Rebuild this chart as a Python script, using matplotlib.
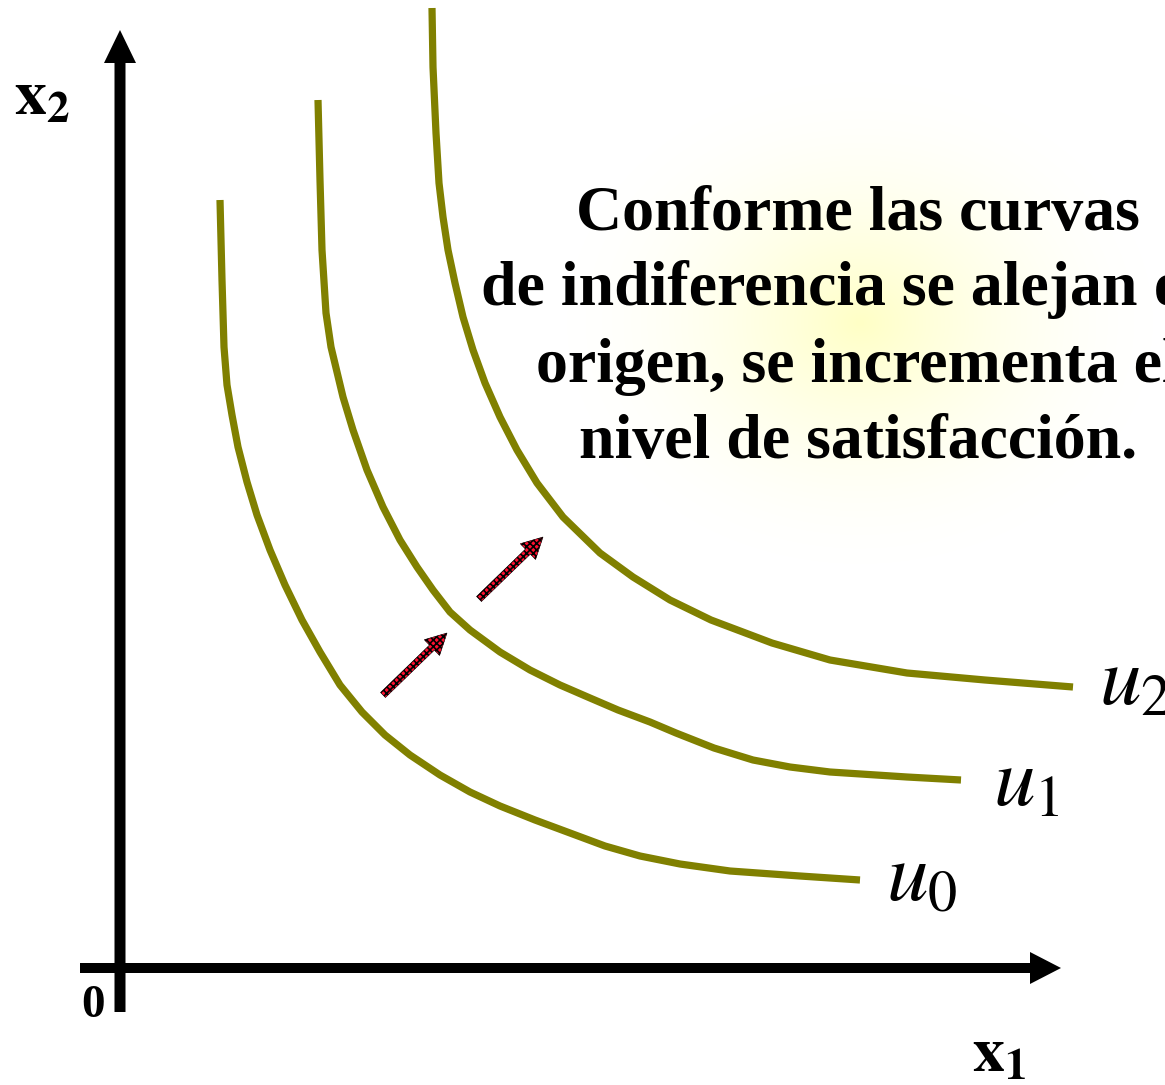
import numpy as np
import matplotlib
matplotlib.use("Agg")
import matplotlib.pyplot as plt

plt.rcParams['mathtext.fontset'] = 'stix'
plt.rcParams['hatch.color'] = 'black'
plt.rcParams['hatch.linewidth'] = 1.2

# indifference curves (origin at the axes crossing)
u0_x = [1.00, 1.02, 1.04, 1.07, 1.12, 1.18, 1.27, 1.37, 1.50, 1.65, 1.82, 2.00, 2.20, 2.42,
        2.65, 2.90, 3.20, 3.50, 3.80, 4.15, 4.50, 4.85, 5.20, 5.60, 6.10, 6.80, 7.40]
u0_y = [7.68, 6.88, 6.21, 5.83, 5.53, 5.21, 4.86, 4.53, 4.18, 3.83, 3.48, 3.16, 2.83, 2.56,
        2.33, 2.13, 1.93, 1.76, 1.62, 1.48, 1.35, 1.22, 1.12, 1.04, 0.97, 0.92, 0.88]

u1_x = [1.98, 2.00, 2.02, 2.06, 2.11, 2.17, 2.23, 2.33, 2.47, 2.63, 2.80, 2.97, 3.13, 3.30,
        3.50, 3.80, 4.10, 4.40, 4.70, 4.98, 5.30, 5.56, 5.94, 6.33, 6.70, 7.10, 7.87, 8.41]
u1_y = [8.68, 7.88, 7.18, 6.55, 6.21, 5.96, 5.71, 5.38, 4.98, 4.61, 4.28, 4.01, 3.78, 3.56,
        3.38, 3.16, 2.98, 2.83, 2.70, 2.58, 2.46, 2.35, 2.20, 2.08, 2.01, 1.96, 1.91, 1.88]

u2_x = [3.12, 3.13, 3.16, 3.19, 3.23, 3.28, 3.35, 3.43, 3.53, 3.65, 3.80, 3.97, 4.17, 4.43,
        4.80, 5.13, 5.50, 5.91, 6.52, 7.10, 7.87, 8.65, 9.53]
u2_y = [9.60, 9.01, 8.35, 7.85, 7.51, 7.18, 6.85, 6.51, 6.18, 5.85, 5.51, 5.18, 4.85, 4.51,
        4.15, 3.91, 3.68, 3.48, 3.25, 3.08, 2.95, 2.88, 2.81]

curve_labels = ['u_0', 'u_1', 'u_2']

# shift arrows (tail -> tip)
arrow_tails = [(2.63, 2.73), (3.59, 3.69)]
arrow_tips = [(3.27, 3.35), (4.23, 4.31)]

text_lines = ["Conforme las curvas",
              "de indiferencia se alejan del",
              "origen, se incrementa el",
              "nivel de satisfacción."]

olive = '#808000'

fig = plt.figure(figsize=(11.65, 10.85), dpi=100)
ax = fig.add_axes([0, 0, 1, 1])
ax.set_xlim(-1.2, 10.45)
ax.set_ylim(-1.17, 9.68)
ax.axis('off')

# soft yellow glow behind the text
gx = np.linspace(-1, 1, 300)
gX, gY = np.meshgrid(gx, gx)
r = np.sqrt(gX ** 2 + gY ** 2)
glow = np.zeros((300, 300, 4))
glow[..., 0] = 1.0
glow[..., 1] = 1.0
glow[..., 2] = 0.72
glow[..., 3] = np.clip(1 - r, 0, 1) ** 1.8 * 0.8
ax.imshow(glow, extent=(4.3, 10.5, 3.9, 9.0), origin='lower', zorder=0,
          interpolation='bilinear', aspect='auto')

# axes
ax.arrow(-0.40, 0, 9.81, 0, width=0.10, head_width=0.32, head_length=0.31,
         length_includes_head=True, fc='black', ec='none', zorder=3)
ax.arrow(0, -0.44, 0, 9.82, width=0.11, head_width=0.32, head_length=0.33,
         length_includes_head=True, fc='black', ec='none', zorder=3)

# curves
for xs, ys in [(u0_x, u0_y), (u1_x, u1_y), (u2_x, u2_y)]:
    ax.plot(xs, ys, color=olive, lw=5.2, solid_capstyle='butt',
            solid_joinstyle='round', zorder=2)

# curve labels
label_pos = [(7.66, 0.68), (8.73, 1.63), (9.79, 2.63)]
for lab, (lx, ly) in zip(curve_labels, label_pos):
    ax.text(lx, ly, '$' + lab + '$', fontsize=60, va='baseline', ha='left', zorder=4)

# red arrows
for (tx, ty), (hx, hy) in zip(arrow_tails, arrow_tips):
    ax.arrow(tx, ty, hx - tx, hy - ty, width=0.07, head_width=0.22, head_length=0.21,
             length_includes_head=True, fc='#ff1030', ec='black', lw=0.4,
             hatch='xxxxx', zorder=4)

# explanatory text
line_base = [7.38, 6.63, 5.86, 5.10]
for txt, yb in zip(text_lines, line_base):
    ax.text(7.38, yb, txt, fontsize=46, family='Liberation Serif', fontweight='bold',
            ha='center', va='baseline', zorder=5)

# axis labels
ax.text(-1.06, 8.53, r'$\mathbf{x}_{\mathbf{2}}$', fontsize=46, va='baseline', ha='left')
ax.text(8.52, -1.04, r'$\mathbf{x}_{\mathbf{1}}$', fontsize=46, va='baseline', ha='left')
ax.text(-0.27, -0.49, '0', fontsize=34, family='Liberation Serif', fontweight='bold',
        ha='center', va='baseline')

fig.savefig('out.png', dpi=100)
